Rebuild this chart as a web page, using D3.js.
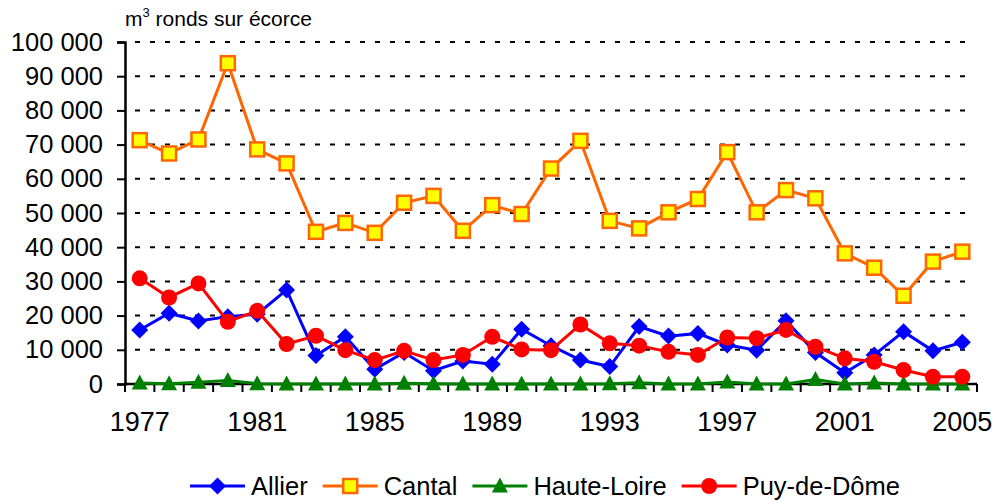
<!DOCTYPE html>
<html lang="fr">
<head>
<meta charset="utf-8">
<script src="https://cdn.jsdelivr.net/npm/d3@7"></script>
<style>
  body { margin: 0; background: #fff; }
  text { font-family: "Liberation Sans", Arial, sans-serif; fill: #000; }
</style>
</head>
<body>
<script>
// années
let years = d3.range(1977, 2006);
let tickYears = [1977, 1981, 1985, 1989, 1993, 1997, 2001, 2005];
let yTicks = [0, 10000, 20000, 30000, 40000, 50000, 60000, 70000, 80000, 90000, 100000];

let allier = [15800, 20700, 18400, 19700, 20400, 27500, 8300, 13800, 4300, 9200,
              3900, 6700, 5800, 16000, 11200, 7000, 5100, 16800, 14000, 14800,
              11400, 9900, 18500, 9200, 3300, 8500, 15300, 9700, 12200];
let cantal = [71300, 67400, 71500, 93800, 68600, 64500, 44500, 47100, 44200, 53000,
              55000, 44800, 52300, 49700, 63000, 71100, 47700, 45500, 50200, 54100,
              67800, 50200, 56700, 54300, 38200, 34000, 25800, 35800, 38700];
let hauteLoire = [300, 100, 500, 1000, 100, 0, 0, 0, 0, 200,
                  100, 0, 0, 0, 0, 0, 100, 400, 0, 0,
                  600, 0, 0, 1300, 0, 300, 0, 0, 0];
let puy = [30900, 25300, 29400, 18200, 21400, 11700, 14100, 9900, 7000, 9700,
           7000, 8500, 13800, 10100, 9900, 17400, 11900, 11200, 9400, 8500,
           13600, 13400, 15800, 10900, 7500, 6500, 4100, 2100, 2100];

let w = 1008, h = 501;
let plotLeft = 125, plotRight = 977, plotTop = 42, plotBottom = 384;

let svg = d3.select("body").append("svg")
    .attr("width", w)
    .attr("height", h);

let x = d3.scaleBand().domain(years).range([plotLeft, plotRight]);
let y = d3.scaleLinear().domain([0, 100000]).range([plotBottom, plotTop]);

let fr = d3.formatLocale({ decimal: ",", thousands: " ", grouping: [3], currency: ["", " €"] });
let fmt = fr.format(",d");

// grille pointillée
svg.append("g")
    .selectAll("line")
    .data(yTicks.filter(d => d > 0))
    .join("line")
    .attr("x1", plotLeft)
    .attr("x2", plotRight - 4)
    .attr("y1", d => y(d))
    .attr("y2", d => y(d))
    .attr("stroke", "#000")
    .attr("stroke-width", 2)
    .attr("stroke-dasharray", "5,10")
    .attr("stroke-dashoffset", -10);

// axe Y
let yAxis = svg.append("g")
    .attr("transform", "translate(" + plotLeft + ",0)")
    .call(d3.axisLeft(y).tickValues(yTicks).tickFormat(fmt).tickSize(8).tickPadding(14));
yAxis.select(".domain").attr("stroke-width", 2.5);
yAxis.selectAll(".tick line").attr("stroke-width", 2);
yAxis.selectAll("text").attr("font-size", 25.5).attr("font-family", "Liberation Sans, Arial, sans-serif");

// axe X
let xAxis = svg.append("g")
    .attr("transform", "translate(0," + plotBottom + ")");
xAxis.append("line")
    .attr("x1", plotLeft).attr("x2", plotRight)
    .attr("y1", 0).attr("y2", 0)
    .attr("stroke", "#000").attr("stroke-width", 2.5);
xAxis.selectAll(".xt")
    .data(years.concat([null]))
    .join("line")
    .attr("class", "xt")
    .attr("x1", (d, i) => plotLeft + i * x.step())
    .attr("x2", (d, i) => plotLeft + i * x.step())
    .attr("y1", 0).attr("y2", 8)
    .attr("stroke", "#000").attr("stroke-width", 2);
xAxis.selectAll("text")
    .data(tickYears)
    .join("text")
    .attr("x", d => x(d) + x.bandwidth() / 2)
    .attr("y", 47)
    .attr("text-anchor", "middle")
    .attr("font-size", 27)
    .text(d => d);

// titre de l'axe
let title = svg.append("text")
    .attr("x", 125)
    .attr("y", 26)
    .attr("font-size", 21);
title.append("tspan").text("m");
title.append("tspan").attr("font-size", 13).attr("dy", -9).text("3");
title.append("tspan").attr("dy", 9).text(" ronds sur écorce");

let series = [
    { name: "Allier", values: allier, color: "#0000ff", shape: "diamond" },
    { name: "Cantal", values: cantal, color: "#ff6600", shape: "square" },
    { name: "Haute-Loire", values: hauteLoire, color: "#008000", shape: "triangle" },
    { name: "Puy-de-Dôme", values: puy, color: "#ff0000", shape: "circle" }
];

let line = d3.line()
    .x((d, i) => x(years[i]) + x.bandwidth() / 2)
    .y(d => y(d));

function drawMarker(g, shape, color) {
    if (shape == "diamond") {
        g.append("path").attr("d", "M0,-8.5L8.5,0L0,8.5L-8.5,0Z").attr("fill", color);
    } else if (shape == "square") {
        g.append("rect").attr("x", -7).attr("y", -7).attr("width", 14).attr("height", 14)
            .attr("fill", "#ffff00").attr("stroke", color).attr("stroke-width", 2.5);
    } else if (shape == "triangle") {
        g.append("path").attr("d", "M0,-8.5L8,6.5L-8,6.5Z").attr("fill", color);
    } else {
        g.append("circle").attr("r", 8).attr("fill", color);
    }
}

series.forEach(function (s) {
    let g = svg.append("g");
    g.append("path")
        .datum(s.values)
        .attr("d", line)
        .attr("fill", "none")
        .attr("stroke", s.color)
        .attr("stroke-width", 3);
    s.values.forEach(function (v, i) {
        let m = g.append("g")
            .attr("transform", "translate(" + (x(years[i]) + x.bandwidth() / 2) + "," + y(v) + ")");
        drawMarker(m, s.shape, s.color);
    });
});

// légende
let legend = svg.append("g").attr("transform", "translate(0,486)");
let lx = 190;
series.forEach(function (s) {
    let item = legend.append("g");
    item.append("line")
        .attr("x1", lx).attr("x2", lx + 55)
        .attr("y1", 0).attr("y2", 0)
        .attr("stroke", s.color).attr("stroke-width", 3);
    let m = item.append("g").attr("transform", "translate(" + (lx + 27.5) + ",0)");
    drawMarker(m, s.shape, s.color);
    let t = item.append("text")
        .attr("x", lx + 61)
        .attr("y", 8.5)
        .attr("font-size", 25.5)
        .text(s.name);
    lx = lx + 61 + t.node().getComputedTextLength() + 15;
});
</script>
</body>
</html>
